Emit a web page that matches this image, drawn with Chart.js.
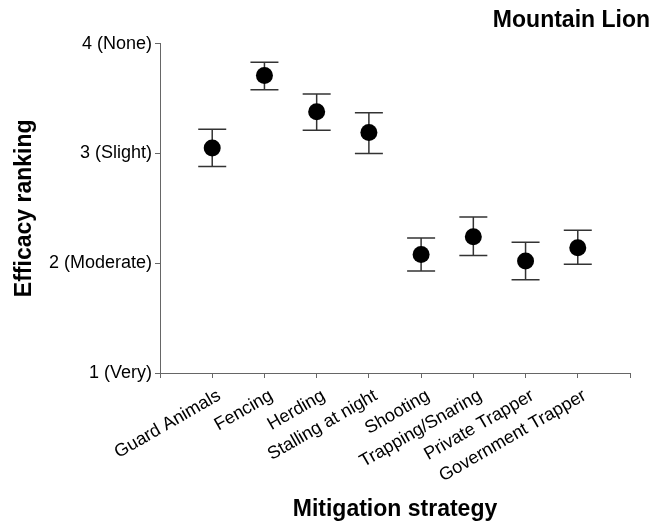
<!DOCTYPE html>
<html>
<head>
<meta charset="utf-8">
<script src="https://cdn.jsdelivr.net/npm/chart.js@4"></script>
<style>
  html, body { margin: 0; padding: 0; background: #fff; }
  #wrap { width: 657px; height: 523px; }
</style>
</head>
<body>
<div id="wrap"><canvas id="chart"></canvas></div>
<script>
// data
const categories = ['Guard Animals', 'Fencing', 'Herding', 'Stalling at night', 'Shooting', 'Trapping/Snaring', 'Private Trapper', 'Government Trapper'];
const means = [3.05, 3.71, 3.38, 3.19, 2.08, 2.24, 2.02, 2.14];
const upper = [3.22, 3.83, 3.54, 3.37, 2.23, 2.42, 2.19, 2.30];
const lower = [2.88, 3.58, 3.21, 3.00, 1.93, 2.07, 1.85, 1.99];
const yTicks = [1, 2, 3, 4];
const yTickLabels = ['1 (Very)', '2 (Moderate)', '3 (Slight)', '4 (None)'];

const FONT = '"Liberation Sans", Arial, sans-serif';

// error bars drawn under the points
const errorBars = {
    id: 'errorBars',
    beforeDatasetsDraw(chart) {
        const { ctx, scales: { x, y } } = chart;
        ctx.save();
        ctx.strokeStyle = '#333';
        ctx.lineWidth = 1.5;
        categories.forEach((c, i) => {
            const px = x.getPixelForValue(i + 1);
            const top = y.getPixelForValue(upper[i]);
            const bot = y.getPixelForValue(lower[i]);
            ctx.beginPath();
            ctx.moveTo(px, top); ctx.lineTo(px, bot);
            ctx.moveTo(px - 14, top); ctx.lineTo(px + 14, top);
            ctx.moveTo(px - 14, bot); ctx.lineTo(px + 14, bot);
            ctx.stroke();
        });
        ctx.restore();
    }
};

new Chart(document.getElementById('chart'), {
    type: 'line',
    data: {
        labels: ['', ...categories, ''],
        datasets: [{
            data: [null, ...means, null],
            showLine: false,
            pointRadius: 8.5,
            pointBackgroundColor: '#000',
            pointBorderColor: '#000',
            pointBorderWidth: 0
        }]
    },
    options: {
        responsive: true,
        maintainAspectRatio: false,
        animation: false,
        layout: { padding: { right: 7 } },
        plugins: {
            legend: { display: false },
            tooltip: { enabled: false },
            title: {
                display: true,
                text: 'Mountain Lion',
                align: 'end',
                color: '#000',
                font: { family: FONT, size: 23, weight: 'bold' },
                padding: { top: 7, bottom: 9 }
            }
        },
        scales: {
            x: {
                type: 'category',
                offset: false,
                afterFit: s => { s.height = 150; },
                grid: { drawOnChartArea: false, drawTicks: true, tickLength: 5, color: '#666' },
                border: { color: '#666', width: 1 },
                ticks: {
                    autoSkip: false, maxRotation: 30, minRotation: 30,
                    color: '#000', padding: 7, labelOffset: 7,
                    font: { family: FONT, size: 18 }
                },
                title: {
                    display: true, text: 'Mitigation strategy', color: '#000',
                    font: { family: FONT, size: 23, weight: 'bold' },
                    padding: { top: 2, bottom: 0 }
                }
            },
            y: {
                min: 1, max: 4,
                afterFit: s => { s.width = 160; },
                afterBuildTicks: s => { s.ticks = yTicks.map(v => ({ value: v })); },
                grid: { drawOnChartArea: false, drawTicks: true, tickLength: 5, color: '#666' },
                border: { color: '#666', width: 1 },
                ticks: {
                    color: '#000', padding: 3,
                    font: { family: FONT, size: 18 },
                    callback: v => yTickLabels[yTicks.indexOf(v)]
                },
                title: {
                    display: true, text: 'Efficacy ranking', color: '#000',
                    font: { family: FONT, size: 23, weight: 'bold' },
                    padding: { top: 11, bottom: 0 }
                }
            },
            yR: {
                position: 'right',
                afterFit: s => { s.width = 20; },
                grid: { display: false },
                border: { display: false },
                ticks: { display: false }
            }
        }
    },
    plugins: [errorBars]
});
</script>
</body>
</html>
